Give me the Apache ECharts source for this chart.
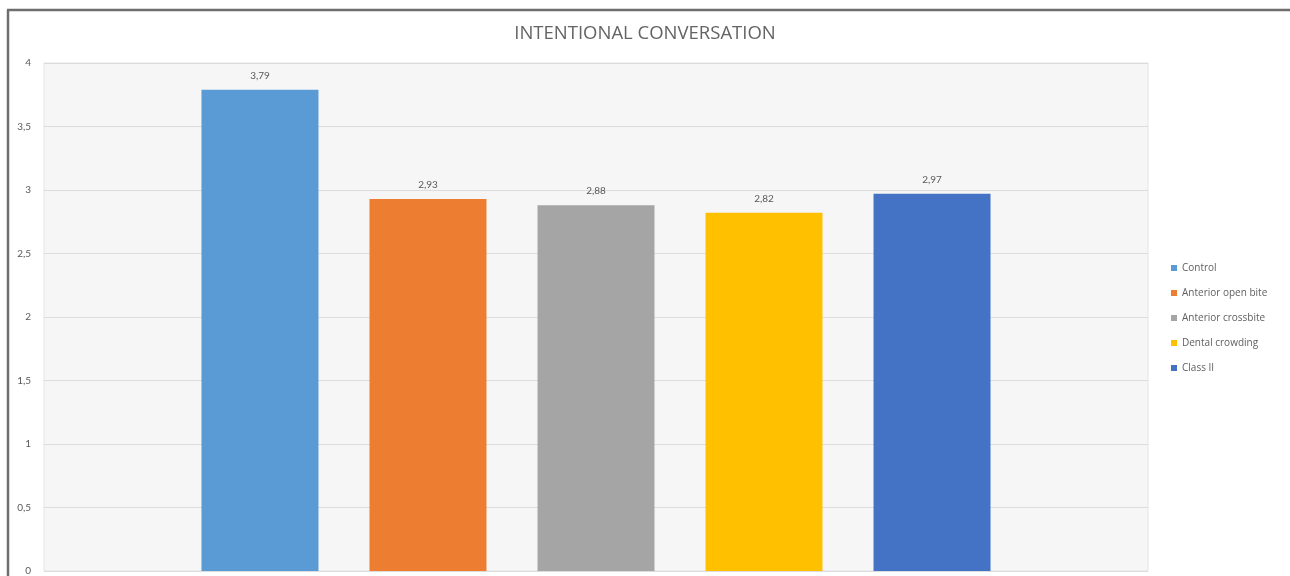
<!DOCTYPE html>
<html>
<head>
<meta charset="utf-8">
<script src="https://cdn.jsdelivr.net/npm/echarts@6/dist/echarts.min.js"></script>
<style>html,body{margin:0;padding:0;background:#fff;}#c{width:1290px;height:576px;}</style>
</head>
<body>
<div id="c"></div>
<script>
const title = 'INTENTIONAL CONVERSATION';
const seriesNames = ['Control', 'Anterior open bite', 'Anterior crossbite', 'Dental crowding', 'Class II'];
const seriesValues = [3.79, 2.93, 2.88, 2.82, 2.97];
const seriesColors = ['#5b9bd5', '#ed7d31', '#a5a5a5', '#ffc000', '#4472c4'];
const yTicks = [0, 0.5, 1, 1.5, 2, 2.5, 3, 3.5, 4];

const fmt = v => String(v).replace('.', ',');
const chart = echarts.init(document.getElementById('c'));
chart.setOption({
  animation: false,
  backgroundColor: '#ffffff',
  textStyle: { fontFamily: 'Lato, "Open Sans", sans-serif' },
  title: {
    text: title, left: 'center', top: 19,
    textStyle: { fontSize: 18.5, fontWeight: 'normal', color: '#646464', fontFamily: '"Open Sans", sans-serif' }
  },
  legend: {
    orient: 'vertical', left: 1166, top: 258,
    itemWidth: 6, itemHeight: 6, itemGap: 15, icon: 'rect',
    textStyle: { fontSize: 10, color: '#606060', fontFamily: '"Open Sans", sans-serif' },
    data: seriesNames
  },
  grid: {
    left: 44, top: 63, width: 1104, height: 508,
    show: true, backgroundColor: '#f6f6f6', borderColor: '#e4e4e4', borderWidth: 1
  },
  xAxis: {
    type: 'category', data: [''],
    axisLine: { show: false }, axisTick: { show: false }, axisLabel: { show: false }
  },
  yAxis: {
    type: 'value', min: yTicks[0], max: yTicks[yTicks.length - 1], interval: 0.5,
    axisLine: { show: false }, axisTick: { show: false },
    axisLabel: { color: '#595959', fontSize: 10, margin: 13, formatter: v => fmt(v) },
    splitLine: { lineStyle: { color: '#dcdcdc', width: 1 } }
  },
  series: seriesNames.map((n, i) => ({
    name: n, type: 'bar',
    data: [seriesValues[i]],
    barWidth: 117, barGap: '43.6%', barCategoryGap: '28%',
    itemStyle: { color: seriesColors[i] },
    label: { show: true, position: 'top', distance: 9, color: '#595959', fontSize: 10, formatter: p => fmt(p.value) }
  })),
  graphic: [
    { type: 'line', shape: { x1: 8, y1: 10, x2: 8, y2: 576 }, style: { stroke: '#6e6e6e', lineWidth: 2.5 } },
    { type: 'line', shape: { x1: 7, y1: 10, x2: 1290, y2: 10 }, style: { stroke: '#6e6e6e', lineWidth: 2.5 } }
  ]
});
</script>
</body>
</html>
